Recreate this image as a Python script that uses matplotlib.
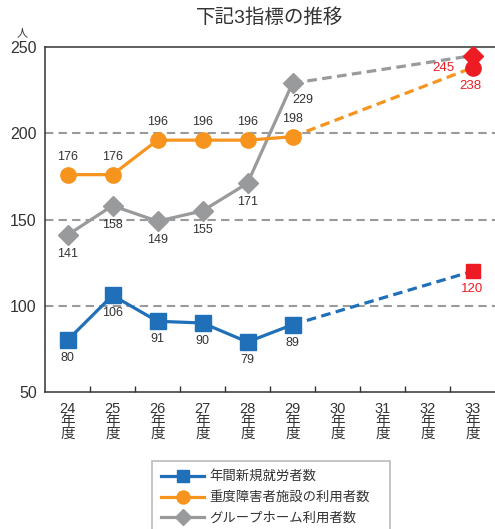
import numpy as np
import matplotlib
matplotlib.use('Agg')
import matplotlib.pyplot as plt

plt.rcParams['font.family'] = ['Liberation Sans', 'Noto Sans CJK JP', 'DejaVu Sans']

# data
years = ['24', '25', '26', '27', '28', '29', '30', '31', '32', '33']
workers = [80, 106, 91, 90, 79, 89]          # 年間新規就労者数 (24-29)
facility = [176, 176, 196, 196, 196, 198]    # 重度障害者施設の利用者数
group_home = [141, 158, 149, 155, 171, 229]  # グループホーム利用者数
target_workers = 120
target_facility = 238
target_group_home = 245

blue = '#1f70b8'
orange = '#f7941d'
gray = '#999a9c'
red = '#ed1c24'
txt = '#333333'

fig = plt.figure(figsize=(4.95, 5.29), dpi=100)
ax = fig.add_axes([45/495, 1 - 392/529, 1 - 45/495, 345/529])

x = np.arange(len(workers))
xt = len(years) - 1

# gridlines
for gy in [100, 150, 200]:
    ax.axhline(gy, color=gray, lw=1.5, ls=(0, (4, 2.5)), zorder=1)

# projections
ax.plot([x[-1], xt], [workers[-1], target_workers], color=blue, lw=2.3, ls=(0, (3, 1.7)), zorder=2)
ax.plot([x[-1], xt], [facility[-1], target_facility], color=orange, lw=2.3, ls=(0, (3, 1.7)), zorder=2)
ax.plot([x[-1], xt], [group_home[-1], target_group_home], color=gray, lw=2.3, ls=(0, (3, 1.7)), zorder=2)

l1, = ax.plot(x, workers, color=blue, lw=2.3, marker='s', ms=11, zorder=4)
l3, = ax.plot(x, group_home, color=gray, lw=2.3, marker='D', ms=10, zorder=3)
l2, = ax.plot(x, facility, color=orange, lw=2.3, marker='o', ms=11, zorder=5)

# targets
ax.plot([xt], [target_workers], marker='s', ms=10, color=red, ls='none', zorder=6)
ax.plot([xt], [target_group_home], marker='D', ms=10, color=red, ls='none', zorder=6)
ax.plot([xt], [target_facility], marker='o', ms=11, color=red, ls='none', zorder=7)

# value labels
for i, v in enumerate(workers):
    ax.annotate(str(v), (i, v), xytext=(0, -18), textcoords='offset pixels',
                ha='center', va='center', fontsize=9, color=txt)
for i, v in enumerate(group_home):
    off = (10, -17) if i == len(group_home) - 1 else (0, -19)
    ax.annotate(str(v), (i, v), xytext=off, textcoords='offset pixels',
                ha='center', va='center', fontsize=9, color=txt)
for i, v in enumerate(facility):
    ax.annotate(str(v), (i, v), xytext=(0, 18), textcoords='offset pixels',
                ha='center', va='center', fontsize=9, color=txt)

ax.annotate(str(target_workers), (xt, target_workers), xytext=(0, -18), textcoords='offset pixels',
            ha='center', va='center', fontsize=9.5, color=red)
ax.annotate(str(target_group_home), (xt, target_group_home), xytext=(-29, -12), textcoords='offset pixels',
            ha='center', va='center', fontsize=9.5, color=red)
ax.annotate(str(target_facility), (xt, target_facility), xytext=(-2, -18), textcoords='offset pixels',
            ha='center', va='center', fontsize=9.5, color=red)

ax.set_xlim(-0.5, len(years) - 0.5)
ax.set_ylim(50, 250)
ax.set_yticks([50, 100, 150, 200, 250])
ax.tick_params(axis='y', length=0, pad=6, labelsize=11.5, labelcolor=txt)
ax.set_xticks(range(len(years)))
ax.set_xticklabels([y + '\n年\n度' for y in years], fontsize=10.5, linespacing=0.88, color=txt)
ax.tick_params(axis='x', which='major', length=0, pad=7)
ax.set_xticks(np.arange(0.5, len(years) - 1, 1), minor=True)
ax.tick_params(axis='x', which='minor', direction='in', length=4.5, width=1, color=txt)

for s in ['top', 'left', 'bottom']:
    ax.spines[s].set_color(txt)
    ax.spines[s].set_linewidth(1.1)
ax.spines['right'].set_visible(False)

fig.text(270/495, 1 - 18/529, '下記3指標の推移', ha='center', va='center', fontsize=14, color=txt)
fig.text(22/495, 1 - 33/529, '人', ha='center', va='center', fontsize=8, color=txt)

leg_top = 1 - 461/529
leg = fig.legend([l1, l2, l3], ['年間新規就労者数', '重度障害者施設の利用者数', 'グループホーム利用者数'],
                 loc='upper left', bbox_to_anchor=(152/495, leg_top - 0.1, 238/495, 0.1),
                 mode='expand', fontsize=9.6,
                 frameon=True, fancybox=False, edgecolor='#aaaaaa', handlelength=3.2,
                 markerscale=0.85, borderpad=0.7, labelspacing=0.62, handletextpad=0.4,
                 borderaxespad=0)
leg.get_frame().set_linewidth(1.2)
for t in leg.get_texts():
    t.set_color(txt)

fig.savefig('out.png', dpi=100)
